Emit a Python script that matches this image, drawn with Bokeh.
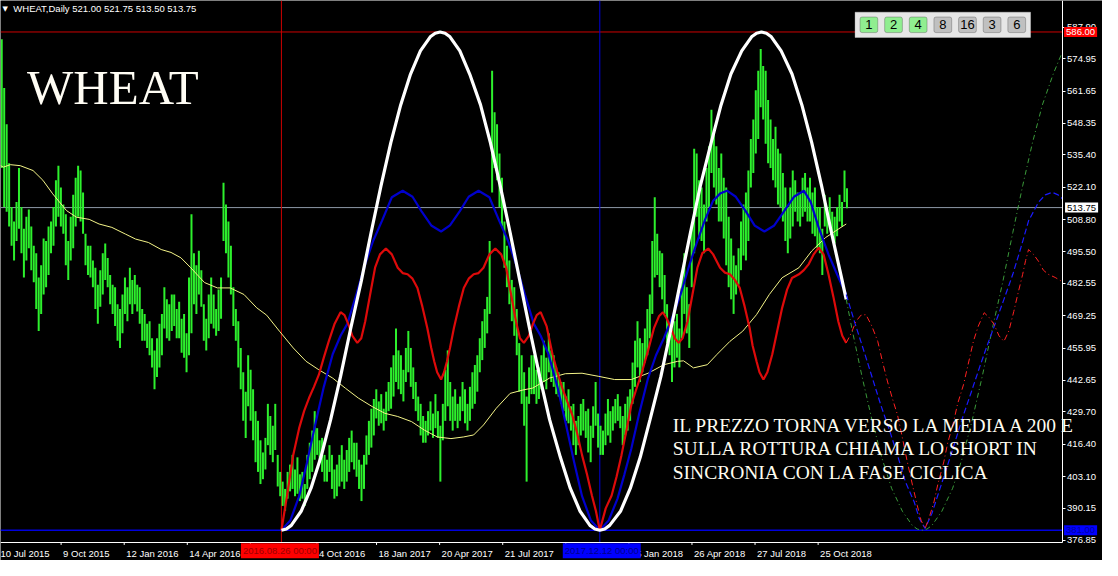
import numpy as np
from bokeh.plotting import figure
from bokeh.models import (Range1d, FixedTicker, PrintfTickFormatter, Label, LinearAxis,
                          BoxAnnotation)
from bokeh.embed import file_html
from bokeh.resources import INLINE

# ------------------------------------------------------------------ texts
symbol_title = "WHEAT,Daily  521.00 521.75 513.50 513.75"
big_title = "WHEAT"
note_lines = ["IL PREZZO TORNA VERSO LA MEDIA A 200 E",
              "SULLA ROTTURA CHIAMA LO SHORT IN",
              "SINCRONIA CON LA FASE CICLICA"]

# ------------------------------------------------------------------ time axis (bar index)
date_tick_bars = [-2.5, 61.5, 125.5, 189.5, 253.5, 321, 381.5, 445.5,
                  509.5, 573.5, 637.5, 701.5, 765.5, 829.5]
date_label_bars = [-2.5, 61.5, 125.5, 189.5, 321, 381.5, 445.5, 509.5,
                   637.5, 701.5, 765.5, 829.5]
date_labels = ["10 Jul 2015", "9 Oct 2015", "12 Jan 2016", "14 Apr 2016",
               "4 Oct 2016", "18 Jan 2017", "20 Apr 2017", "21 Jul 2017",
               "25 Jan 2018", "26 Apr 2018", "27 Jul 2018", "25 Oct 2018"]

# ------------------------------------------------------------------ price axis
price_ticks = [376.85, 390.15, 403.10, 416.40, 429.70, 442.65, 455.95, 469.25,
               482.55, 495.50, 508.80, 522.10, 535.40, 548.35, 561.65, 574.95, 587.90]

# ------------------------------------------------------------------ daily bars (high / low)
bar_high = [583, 563, 548, 532, 514, 508, 516, 530, 514, 505, 510, 513, 506, 498, 495, 485, 490, 501, 500, 506,
            508, 514, 525, 531, 522, 515, 511, 500, 510, 519, 526, 531, 529, 520, 503, 498, 498, 492, 489, 482,
            488, 495, 499, 493, 486, 482, 481, 474, 472, 478, 485, 481, 489, 484, 486, 482, 481, 472, 470, 466,
            467, 460, 455, 460, 466, 470, 481, 476, 474, 478, 478, 472, 475, 468, 470, 462, 485, 511, 495, 490,
            496, 488, 474, 468, 478, 485, 478, 472, 480, 485, 524, 515, 508, 498, 481, 472, 467, 456, 446, 438,
            453, 447, 439, 430, 426, 418, 413, 419, 433, 428, 424, 433, 412, 405, 401, 398, 405, 408, 412, 406,
            411, 404, 405, 400, 412, 417, 422, 430, 423, 418, 419, 412, 410, 416, 412, 406, 408, 412, 416, 410,
            414, 419, 422, 417, 417, 410, 408, 412, 420, 426, 431, 435, 439, 434, 437, 431, 438, 442, 448, 453,
            464, 455, 453, 447, 456, 463, 456, 448, 442, 436, 433, 428, 426, 430, 434, 429, 437, 430, 424, 433,
            447, 455, 442, 436, 439, 433, 436, 442, 439, 433, 440, 446, 449, 453, 460, 467, 472, 477, 500, 570,
            553, 548, 536, 526, 508, 498, 492, 484, 481, 472, 458, 453, 446, 436, 448, 453, 453, 447, 448, 453,
            459, 452, 462, 455, 453, 448, 446, 442, 442, 436, 439, 432, 433, 426, 428, 433, 435, 430, 431, 424,
            432, 442, 429, 424, 422, 429, 435, 430, 432, 435, 437, 432, 428, 433, 436, 439, 450, 459, 467, 460,
            458, 464, 472, 478, 500, 518, 503, 496, 495, 486, 474, 466, 462, 467, 470, 464, 485, 495, 481, 474,
            505, 538, 536, 525, 522, 515, 530, 539, 554, 545, 539, 530, 536, 526, 522, 510, 501, 494, 490, 497,
            508, 515, 520, 529, 542, 550, 562, 570, 579, 572, 570, 558, 550, 542, 547, 538, 536, 528, 522, 514,
            522, 529, 525, 520, 520, 526, 528, 522, 526, 520, 522, 514, 514, 505, 519, 514, 518, 512, 510, 514,
            519, 516, 529, 521.75]
bar_low = [530, 514, 512, 506, 498, 492, 500, 505, 495, 485, 492, 497, 488, 483, 472, 463, 470, 478, 481, 486,
           495, 498, 506, 510, 506, 503, 490, 484, 492, 497, 506, 510, 508, 503, 490, 486, 485, 481, 472, 466,
           473, 478, 484, 481, 474, 470, 465, 459, 456, 462, 470, 467, 474, 470, 474, 471, 466, 459, 459, 456,
           453, 448, 439, 444, 448, 453, 464, 460, 459, 463, 465, 460, 460, 454, 452, 446, 453, 462, 474, 470,
           478, 473, 459, 455, 460, 466, 464, 461, 463, 468, 500, 495, 485, 478, 465, 459, 448, 439, 426, 419,
           432, 426, 418, 409, 405, 400, 402, 406, 416, 412, 409, 414, 399, 395, 391, 389, 394, 397, 398, 395,
           396, 393, 394, 391, 398, 402, 405, 410, 412, 409, 405, 401, 401, 405, 398, 394, 395, 399, 401, 398,
           401, 405, 409, 406, 403, 398, 393, 398, 408, 412, 415, 420, 427, 424, 425, 422, 426, 430, 431, 436,
           442, 439, 437, 434, 442, 446, 440, 435, 430, 426, 420, 417, 417, 420, 422, 419, 423, 419, 401, 418,
           426, 432, 426, 422, 426, 423, 426, 430, 425, 422, 426, 431, 433, 438, 446, 451, 456, 462, 470, 520,
           530, 525, 514, 506, 489, 481, 474, 467, 461, 453, 438, 433, 424, 401, 433, 437, 437, 433, 435, 439,
           442, 439, 446, 442, 440, 437, 436, 433, 430, 426, 425, 422, 416, 412, 416, 420, 422, 419, 413, 409,
           419, 424, 415, 412, 412, 416, 420, 417, 422, 425, 426, 423, 416, 420, 422, 426, 433, 440, 448, 442,
           446, 450, 453, 460, 470, 485, 486, 481, 476, 470, 458, 453, 442, 448, 452, 448, 460, 470, 462, 456,
           481, 495, 510, 501, 500, 495, 508, 514, 528, 522, 515, 508, 508, 501, 490, 481, 476, 470, 478, 482,
           488, 494, 492, 500, 522, 528, 536, 542, 555, 550, 540, 532, 530, 525, 522, 515, 514, 508, 500, 495,
           501, 506, 512, 508, 506, 510, 512, 508, 508, 503, 502, 497, 495, 486, 506, 503, 506, 503, 499, 502,
           508, 506, 516, 513.5]

# ------------------------------------------------------------------ 200 moving average
ma_x = [0, 3, 10, 20, 33, 43, 53, 67, 77, 90, 100, 113, 127, 137, 150, 163, 173, 183, 193, 207,
        220, 233, 247, 260, 270, 283, 297, 310, 323, 337, 350, 363, 377, 390, 403, 417, 430, 443,
        457, 470, 480, 490, 503, 517, 530, 540, 557, 573, 590, 607, 623, 640, 657, 673, 687, 693,
        703, 717, 727, 740, 753, 767, 780, 793, 810, 823, 837, 850, 858]
ma_y = [531, 530.4, 531.4, 531, 529, 525, 519.4, 512.5, 509.8, 508.9, 507, 505.6, 502.8, 500.8, 499.4,
        496.5, 495.3, 493.1, 489, 482.9, 480.7, 480.7, 478, 472.5, 469.5, 462.9, 456, 450.5, 447, 443.6,
        439.4, 435.4, 431.9, 429.1, 427.8, 425.7, 422.2, 419.4, 418.7, 419.4, 420.2, 424.3, 431.2, 437.3,
        438.7, 439.5, 443.6, 445.4, 445.6, 444.3, 443, 443, 445.6, 449.1, 450.5, 450.7, 447.8, 449.1,
        453.4, 458.7, 462.9, 469.7, 478, 484.9, 489, 495.9, 501.4, 504.9, 507]

# ------------------------------------------------------------------ main cycle (white) and projection
cycle_x = [285, 290, 295, 305, 315, 325, 335, 345, 355, 366, 376, 386, 396, 406, 416, 426, 436, 441, 446,
           451, 456, 466, 476, 487, 497, 507, 517, 527, 537, 547, 557, 568, 578, 588, 598, 603, 608,
           613, 618, 629, 639, 649, 659, 670, 680, 690, 700, 710, 721, 731, 741, 752, 762, 767, 772,
           777, 782, 792, 803, 813, 823, 833, 843, 854, 858]
cycle_y = [381, 381.5, 383, 388.8, 398.3, 411, 426.6, 444.3, 463.5, 483.5, 503.5, 522.7, 540.5, 556, 568.7,
           578.2, 584, 585.5, 586, 585.5, 584, 578.2, 568.7, 556, 540.5, 522.7, 503.5, 483.5, 463.5, 444.3,
           426.6, 411, 398.3, 388.8, 383, 381.5, 381, 381.5, 383, 388.8, 398.3, 411, 426.6, 444.3, 463.5,
           483.5, 503.5, 522.7, 540.5, 556, 568.7, 578.2, 584, 585.5, 586, 585.5, 584, 578.2, 568.7, 556,
           540.5, 522.7, 503.5, 483.5, 476]
cycle_proj_x = [858, 864, 874, 884, 894, 904, 915, 925, 930, 935, 940, 945, 955, 966, 976, 986, 996,
                1006, 1017, 1027, 1037, 1047, 1057, 1068, 1077]
cycle_proj_y = [476, 463.5, 444.3, 426.6, 411, 398.3, 388.8, 383, 381.5, 381, 381.5, 383, 388.8, 398.3,
                411, 426.6, 444.3, 463.5, 483.5, 503.5, 522.7, 540.5, 556, 568.7, 577.5]

# ------------------------------------------------------------------ second cycle (blue)
blue_x = [285, 294, 303, 311, 320, 328, 337, 345, 352, 361, 370, 378, 387, 397, 408, 418, 427, 437, 447,
          456, 466, 475, 485, 496, 506, 515, 523, 532, 541, 548, 556, 565, 573, 582, 590, 599, 608,
          617, 626, 633, 640, 648, 657, 665, 673, 681, 690, 698, 707, 715, 723, 730, 737, 746, 756, 765,
          775, 785, 795, 805, 815, 822, 830, 840, 849, 858]
blue_y = [381, 385, 395, 409, 425.7, 440, 453.4, 461, 466, 478, 490.5, 500, 508.3, 518, 520.7, 518.2, 512.3,
          506.4, 503.9, 506.4, 512.3, 518.2, 520.7, 518, 508.3, 500, 490.5, 478, 466, 461, 453.4, 440, 425.7,
          409, 395, 385, 381, 385, 394, 404, 414.6, 429, 443.6, 453, 460, 468, 478, 489, 500, 509, 516.6,
          519.5, 520.7, 518.2, 512.3, 506.4, 503.9, 506.4, 512.3, 518.2, 520.7, 516, 505.6, 494.5, 486, 478]
blue_proj_x = [858, 867, 877, 885, 893, 902, 910, 918, 927, 932, 938, 945, 953, 965, 977, 985, 993, 1001,
               1010, 1018, 1027, 1035, 1043, 1053, 1060, 1067, 1073, 1077]
blue_proj_y = [478, 466, 453.4, 443, 432.6, 422, 411.9, 401, 392.6, 386, 381.7, 388, 398, 413, 428.5, 438,
               447.7, 457, 467, 476, 486.3, 497, 508.3, 515.9, 519, 520, 519, 517.5]

# ------------------------------------------------------------------ third cycle (red)
red_x = [285, 291, 297, 303, 308, 313, 318, 323, 328, 333, 339, 345, 349, 353, 357, 362, 366, 370, 375, 380,
         385, 391, 397, 403, 408, 413, 418, 423, 428, 433, 437, 440, 443, 447, 450, 453, 456, 460, 465, 470,
         475, 480, 485, 490, 496, 502, 508, 513, 518, 523, 527, 531, 536, 540, 544, 548, 554, 560, 565, 570,
         575, 580, 585, 590, 595, 600, 604, 608, 614, 620, 625, 630, 635, 640, 645, 650, 657, 663, 668, 672,
         676, 680, 684, 688, 692, 697, 702, 707, 712, 718, 723, 730, 735, 740, 745, 750, 755, 760, 763, 767,
         770, 774, 778, 783, 788, 793, 798, 803, 810, 815, 820, 825, 830, 835, 840, 845, 850, 854, 858]
red_y = [381, 396, 412, 423, 430, 435.4, 440, 445, 452, 458.7, 466, 470.7, 469.5, 465.7, 461, 458.1, 460,
         466.9, 478, 489, 494.5, 496.9, 494.5, 489, 486.8, 486.3, 484.5, 480.7, 473, 464.2, 456, 450.5, 446,
         443, 446, 450.5, 456, 464.2, 473, 480.7, 484.5, 486.3, 486.8, 489, 494.5, 496.9, 494.5, 489, 478,
         466.9, 460, 458.1, 461, 465.7, 469.5, 470.7, 465, 453.4, 446, 439.4, 434, 428.5, 421, 411.9, 404,
         395.3, 389, 381, 390, 395.3, 403, 411.9, 422, 432.6, 439, 445, 455, 464.2, 469, 470.7, 468, 464.2,
         460, 458.1, 460, 466.9, 478, 489, 495, 496.9, 494.5, 489, 487, 486.3, 484, 480.7, 473, 464.2, 457,
         450.5, 446, 443, 446, 453.4, 463, 472.5, 480, 484.8, 486.3, 488, 490.5, 494.5, 497.3, 494.5, 486.3,
         477, 466.9, 461, 458.1]
red_proj_x = [858, 863, 868, 873, 878, 884, 890, 895, 900, 905, 910, 915, 920, 925, 930, 934, 938, 942, 947,
              951, 957, 961, 967, 971, 977, 981, 987, 992, 998, 1003, 1008, 1013, 1018, 1023, 1028, 1032,
              1037, 1040, 1043, 1048, 1053, 1058, 1063, 1070, 1077]
red_proj_y = [458.1, 462, 467, 469.5, 469.7, 465, 458.7, 450, 442, 435, 428.5, 419, 409.1, 400, 391.3, 385,
              381.7, 386, 392.6, 400, 409.1, 417, 425.7, 433, 440.9, 448, 458.7, 465, 470.5, 468.5, 465.7,
              461, 458.7, 463, 471, 478, 486.3, 492, 496.5, 494.5, 491.7, 488, 486.3, 485, 483.3]

# ------------------------------------------------------------------ chart objects
level_high = 586.00
level_low = 381.00
last_close = 513.75
vline_red_bar = 285
vline_red_text = "2016.08.26 00:00"
vline_blue_bar = 608
vline_blue_text = "2017.12.12 00:00"
button_labels = ["1", "2", "4", "8", "16", "3", "6"]
button_active = [True, True, True, False, False, False, False]

# ------------------------------------------------------------------ layout constants (reference pixels)
REF_W, REF_H = 1118, 576          # whole chart window
AXIS_X = 1077                     # right price scale position (bar units)
PX_PRICE = 0.4                    # price per reference pixel row
Y_TOP = 598.95                    # price at the top edge
W, H = 1102, 560                  # drawn size


def py(row):
    """reference pixel row -> price coordinate"""
    return Y_TOP - PX_PRICE * row


AXIS_Y = py(557)                  # bottom time scale position
SX = W / REF_W                    # screen px per bar unit

p = figure(frame_width=W, frame_height=H, min_border=0,
           x_range=Range1d(0, REF_W), y_range=Range1d(py(REF_H), Y_TOP),
           output_backend="svg", toolbar_location=None,
           x_axis_location=None, y_axis_location=None,
           background_fill_color="black", border_fill_color="black", outline_line_color=None)
p.grid.visible = False

SMALL = "Liberation Sans"
SMALL_SIZE = 9.5

# ---- price scale (real axis, fixed at the right edge of the chart area)
ya = LinearAxis(fixed_location=AXIS_X, bounds=(AXIS_Y, Y_TOP))
ya.ticker = FixedTicker(ticks=price_ticks)
ya.formatter = PrintfTickFormatter(format="%.2f")
ya.axis_line_color = "white"
ya.major_tick_line_color = "white"
ya.major_tick_out = 3
ya.major_tick_in = 0
ya.minor_tick_line_color = None
ya.major_label_text_color = "white"
ya.major_label_text_font = SMALL
ya.major_label_text_font_size = f"{SMALL_SIZE}px"
ya.major_label_standoff = 2
p.add_layout(ya, "right")

# ---- time scale: MT4 writes each date to the right of its tick
ADV = {"0": 556, "1": 556, "2": 556, "3": 556, "4": 556, "5": 556, "6": 556, "7": 556, "8": 556,
       "9": 556, " ": 278, "J": 500, "u": 556, "l": 222, "O": 778, "c": 500, "t": 278, "a": 556,
       "n": 556, "A": 667, "p": 556, "r": 333}


def text_w_units(s):
    return sum(ADV.get(ch, 556) for ch in s) / 1000.0 * SMALL_SIZE / SX


label_pos = [round(b + 2 / SX + text_w_units(t) / 2, 2) for b, t in zip(date_label_bars, date_labels)]
xa = LinearAxis(fixed_location=AXIS_Y, bounds=(0, AXIS_X))
xa.ticker = FixedTicker(ticks=label_pos)
xa.major_label_overrides = {v: t for v, t in zip(label_pos, date_labels)}
xa.axis_line_color = "white"
xa.major_tick_line_color = None
xa.minor_tick_line_color = None
xa.major_tick_out = 3
xa.major_tick_in = 0
xa.major_label_text_color = "white"
xa.major_label_text_font = SMALL
xa.major_label_text_font_size = f"{SMALL_SIZE}px"
xa.major_label_standoff = 3
p.add_layout(xa, "below")
# tick marks of the time scale
p.segment(x0=date_tick_bars, x1=date_tick_bars, y0=[AXIS_Y] * len(date_tick_bars),
          y1=[AXIS_Y - 3 * PX_PRICE] * len(date_tick_bars), line_color="white", line_width=1)

# ---- horizontal / vertical objects
p.segment(x0=[0, 0, 0], x1=[AXIS_X] * 3, y0=[level_high, last_close, level_low],
          y1=[level_high, last_close, level_low],
          line_color=["#cc0000", "#8c98a6", "#0000dd"], line_width=[1, 1, 1.3])
p.segment(x0=[vline_red_bar, vline_blue_bar], x1=[vline_red_bar, vline_blue_bar],
          y0=[AXIS_Y] * 2, y1=[Y_TOP] * 2, line_color=["#cc0000", "#0000dd"], line_width=1)

# ---- price bars
bar_x = 1.25 + 2.5 * np.arange(len(bar_high))
p.segment(x0=bar_x, y0=bar_low, x1=bar_x, y1=bar_high, line_color="#2df02d", line_width=2.0)

# ---- moving average
p.line(ma_x, ma_y, line_color="#f4f488", line_width=1)

# ---- cycles
p.line(blue_x, blue_y, line_color="#0000cc", line_width=2.2)
p.line(red_x, red_y, line_color="#dd0a0a", line_width=2.2)
p.line(cycle_x, cycle_y, line_color="white", line_width=3.2)

p.line(cycle_proj_x, cycle_proj_y, line_color="#3a9a3a", line_width=1, line_dash="5 3 1 3")
p.line(blue_proj_x, blue_proj_y, line_color="#1a1aff", line_width=1.2, line_dash="6 3")
p.line(red_proj_x, red_proj_y, line_color="#ff2020", line_width=1, line_dash="6 3 1 3")

# ---- vertical-line time labels
p.add_layout(Label(x=vline_red_bar - 1.5, y=py(566), text=vline_red_text, text_align="center",
                   text_baseline="middle", text_color="#9a0000", text_font=SMALL,
                   text_font_size=f"{SMALL_SIZE}px",
                   background_fill_color="#ff0000", background_fill_alpha=1, padding=2))
p.add_layout(Label(x=vline_blue_bar + 2, y=py(566), text=vline_blue_text, text_align="center",
                   text_baseline="middle", text_color="#00008a", text_font=SMALL,
                   text_font_size=f"{SMALL_SIZE}px",
                   background_fill_color="#0000ff", background_fill_alpha=1, padding=2))

# ---- price labels on the right scale
p.add_layout(Label(x=AXIS_X + 2, y=level_high, text=f"{level_high:.2f}", text_align="left",
                   text_baseline="middle", text_color="white", text_font=SMALL,
                   text_font_size=f"{SMALL_SIZE}px",
                   background_fill_color="#ff0000", background_fill_alpha=1, padding=2))
p.add_layout(Label(x=AXIS_X + 3, y=last_close, text=f"{last_close:.2f}", text_align="left",
                   text_baseline="middle", text_color="black", text_font=SMALL,
                   text_font_size=f"{SMALL_SIZE}px",
                   background_fill_color="white", background_fill_alpha=1, padding=2))
p.add_layout(Label(x=AXIS_X + 2, y=level_low, text=f"{level_low:.2f}", text_align="left",
                   text_baseline="middle", text_color="#0000a0", text_font=SMALL,
                   text_font_size=f"{SMALL_SIZE}px",
                   background_fill_color="#0000ff", background_fill_alpha=1, padding=2))

# ---- header
p.add_layout(Label(x=2, y=py(9), text="\u25bc", text_align="left", text_baseline="middle",
                   text_color="white", text_font="DejaVu Sans", text_font_size="7px"))
p.add_layout(Label(x=13, y=py(8), text=symbol_title, text_align="left", text_baseline="middle",
                   text_color="white", text_font=SMALL, text_font_size=f"{SMALL_SIZE}px"))
p.add_layout(Label(x=27, y=py(89), text=big_title, text_align="left", text_baseline="alphabetic",
                   text_color="#fffdf4", text_font="Liberation Serif", text_font_size="49px"))

# ---- comment text
for i, line in enumerate(note_lines):
    p.add_layout(Label(x=682, y=py(437 + 24 * i), text=line, text_align="left",
                       text_baseline="alphabetic", text_color="#fffdf0",
                       text_font="Liberation Serif", text_font_size="19.5px"))

# ---- timeframe buttons panel
p.add_layout(BoxAnnotation(left=867, right=1045, top=py(12), bottom=py(38),
                           fill_color="#e6e6e6", fill_alpha=1, line_color="#f8f8f8", line_width=1))
for i, (lab, act) in enumerate(zip(button_labels, button_active)):
    left = 872 + 25 * i
    p.add_layout(BoxAnnotation(left=left, right=left + 18, top=py(17), bottom=py(33),
                               fill_color="#90ee90" if act else "#c0c0c0", fill_alpha=1,
                               line_color="#303030", line_width=1, border_radius=2))
    p.add_layout(Label(x=left + 9, y=py(25), text=lab, text_align="center", text_baseline="middle",
                       text_color="black", text_font=SMALL, text_font_size="13px"))

open("out.html", "w").write(file_html(p, INLINE))
